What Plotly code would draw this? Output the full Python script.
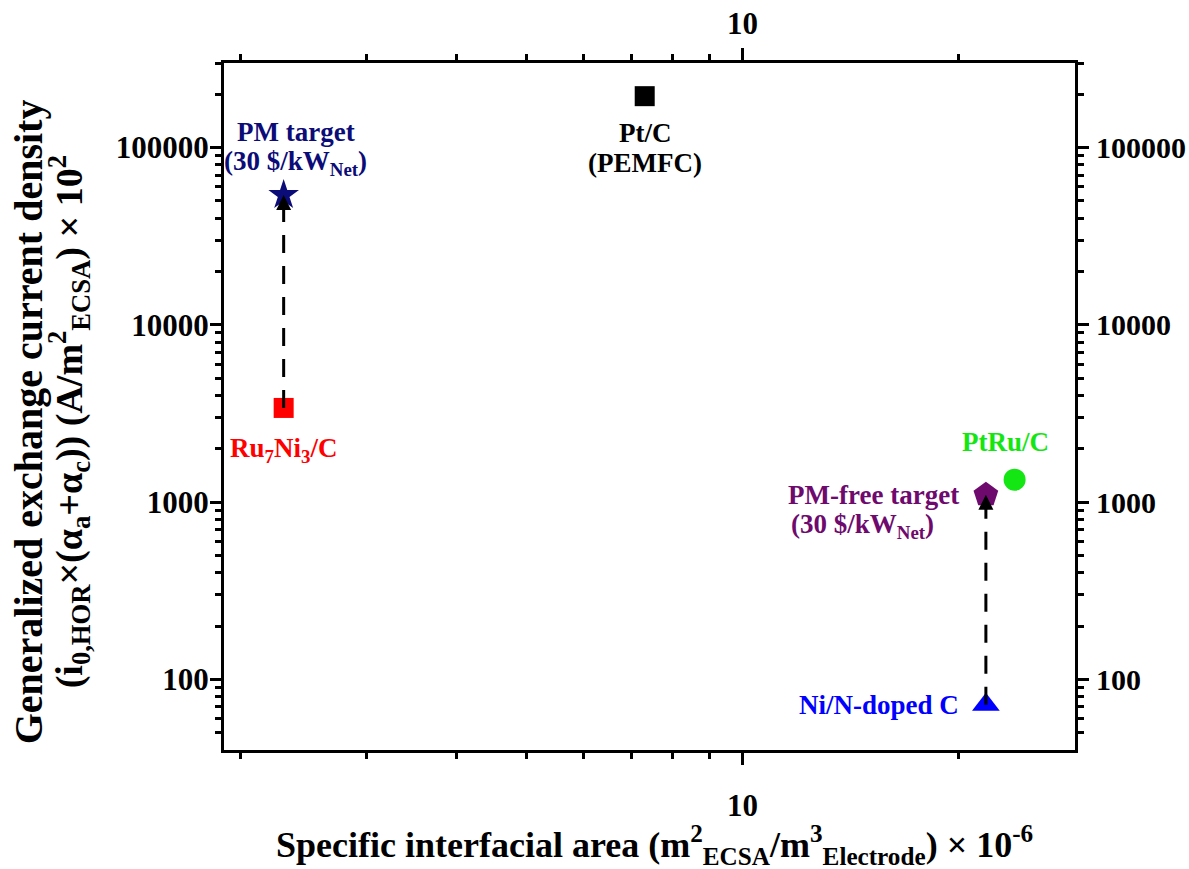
import numpy as np
import plotly.graph_objects as go

# ---- data ----
point_names = ["PM target", "Ru7Ni3/C", "Pt/C", "PtRu/C", "PM-free target", "Ni/N-doped C"]
specific_area = [2.30, 2.30, 7.31, 23.9, 21.8, 21.8]          # m2_ECSA/m3_Electrode x 1e-6
exchange_current = [54000, 3400, 195000, 1340, 1100, 72]      # generalized exchange current density x 1e2
arrow_from = ["Ru7Ni3/C", "Ni/N-doped C"]
arrow_to = ["PM target", "PM-free target"]

x_major = [10]
x_major_text = ["10"]
x_minor = [2, 3, 4, 5, 6, 7, 8, 9, 20]
y_major = [100, 1000, 10000, 100000]
y_major_text = ["100", "1000", "10000", "100000"]
y_minor = [50, 60, 70, 80, 90,
           200, 300, 400, 500, 600, 700, 800, 900,
           2000, 3000, 4000, 5000, 6000, 7000, 8000, 9000,
           20000, 30000, 40000, 50000, 60000, 70000, 80000, 90000,
           200000, 300000]

# ---- styles ----
FONT = "Liberation Serif"
styles = {
    "PM target": dict(symbol="star", color="#0c0c78", size=23,
                      lines=["PM target", "(30 $/kW<sub>Net</sub>)"], xshift=12, yshifts=[63, 32], xanchor="center"),
    "Ru7Ni3/C": dict(symbol="square", color="#ff0000", size=20,
                     lines=["Ru<sub>7</sub>Ni<sub>3</sub>/C"], xshift=0, yshifts=[-42], xanchor="center"),
    "Pt/C": dict(symbol="square", color="#000000", size=20,
                 lines=["Pt/C", "(PEMFC)"], xshift=0, yshifts=[-37, -67], xanchor="center"),
    "PtRu/C": dict(symbol="circle", color="#14e614", size=22,
                   lines=["PtRu/C"], xshift=-9, yshifts=[38], xanchor="center"),
    "PM-free target": dict(symbol="pentagon", color="#6e0a6e", size=26,
                           lines=["PM-free target", "(30 $/kW<sub>Net</sub>)"], xshift=[-112, -123],
                           yshifts=[0, -31], xanchor="center"),
    "Ni/N-doped C": dict(symbol="triangle-up", color="#0000ff", size=24,
                         lines=["Ni/N-doped C"], xshift=-25, yshifts=[0], xanchor="right"),
}

fig = go.Figure()

idx = {n: i for i, n in enumerate(point_names)}

for n in point_names:
    s = styles[n]
    i = idx[n]
    fig.add_trace(go.Scatter(
        x=[specific_area[i]], y=[exchange_current[i]], mode="markers",
        marker=dict(symbol=s["symbol"], color=s["color"], size=s["size"], line=dict(width=0)),
        showlegend=False, hoverinfo="skip"))

# dashed arrows
for a, b in zip(arrow_from, arrow_to):
    ia, ib = idx[a], idx[b]
    fig.add_trace(go.Scatter(
        x=[specific_area[ia], specific_area[ib]],
        y=[exchange_current[ia], exchange_current[ib]],
        mode="lines", line=dict(color="black", width=3, dash="18px,13px"),
        showlegend=False, hoverinfo="skip"))
    fig.add_annotation(x=np.log10(specific_area[ib]), y=np.log10(exchange_current[ib]),
                       xref="x", yref="y", ax=0, ay=16, text="", showarrow=True,
                       arrowhead=2, arrowsize=1.0, arrowwidth=3, arrowcolor="black", standoff=0)

# labels
for n in point_names:
    s = styles[n]
    i = idx[n]
    xs = s["xshift"] if isinstance(s["xshift"], list) else [s["xshift"]] * len(s["lines"])
    for line, ys, xsh in zip(s["lines"], s["yshifts"], xs):
        fig.add_annotation(x=np.log10(specific_area[i]), y=np.log10(exchange_current[i]),
                           xref="x", yref="y", text=line, showarrow=False,
                           xanchor=s["xanchor"], yanchor="middle", align="center",
                           xshift=xsh, yshift=ys,
                           font=dict(family=FONT, size=27, color=s["color"], weight="bold"))

# invisible trace for secondary axes
fig.add_trace(go.Scatter(x=[specific_area[0]], y=[exchange_current[0]], xaxis="x2", yaxis="y2",
                         mode="markers", marker=dict(opacity=0), showlegend=False, hoverinfo="skip"))

tickfont = dict(family=FONT, size=31, color="black", weight="bold")
tickfont_r = dict(family=FONT, size=30, color="black", weight="bold")
xr = [np.log10(1.9), np.log10(29)]
yr = [np.log10(40), np.log10(300000)]

xcommon = dict(type="log", range=xr, showline=True, linecolor="black", linewidth=3,
               ticks="outside", ticklen=12, tickwidth=3, tickcolor="black",
               tickmode="array", tickvals=x_major, ticktext=x_major_text, tickfont=tickfont,
               minor=dict(tickmode="array", tickvals=x_minor, ticks="outside", ticklen=6,
                          tickwidth=3, tickcolor="black", showgrid=False),
               showgrid=False, zeroline=False, mirror=False, automargin=False)
ycommon = dict(type="log", range=yr, showline=True, linecolor="black", linewidth=3,
               ticks="outside", ticklen=11, tickwidth=3, tickcolor="black",
               tickmode="array", tickvals=y_major, ticktext=y_major_text,
               minor=dict(tickmode="array", tickvals=y_minor, ticks="outside", ticklen=6,
                          tickwidth=3, tickcolor="black", showgrid=False),
               showgrid=False, zeroline=False, mirror=False, automargin=False)

fig.update_layout(
    width=1189, height=869,
    margin=dict(l=224, r=114, t=63, b=119, autoexpand=False),
    paper_bgcolor="white", plot_bgcolor="white",
    xaxis=dict(**xcommon, side="bottom", ticklabelstandoff=14),
    yaxis=dict(**ycommon, side="left", ticklabelstandoff=-5, tickfont=tickfont),
    xaxis2=dict(**xcommon, side="top", overlaying="x", anchor="y", ticklabelstandoff=2),
    yaxis2=dict(**ycommon, side="right", overlaying="y", anchor="x", ticklabelstandoff=1,
                tickfont=tickfont_r),
    showlegend=False,
)

# axis titles as annotations
fig.add_annotation(xref="paper", yref="paper", x=0.506, y=0, yshift=-95, showarrow=False,
                   xanchor="center", yanchor="middle",
                   text="Specific interfacial area (m<sup>2</sup><sub>ECSA</sub>/m<sup>3</sup><sub>Electrode</sub>) × 10<sup>-6</sup>",
                   font=dict(family=FONT, size=36, color="black", weight="bold"))
fig.add_annotation(xref="paper", yref="paper", x=0, xshift=-196, y=0.477, showarrow=False,
                   xanchor="center", yanchor="middle", textangle=-90,
                   text="Generalized exchange current density",
                   font=dict(family=FONT, size=40, color="black", weight="bold"))
fig.add_annotation(xref="paper", yref="paper", x=0, xshift=-155, y=0.477, showarrow=False,
                   xanchor="center", yanchor="middle", textangle=-90,
                   text="(i<sub>0,HOR</sub>×(α<sub>a</sub>+α<sub>c</sub>)) (A/m<sup>2</sup><sub>ECSA</sub>) × 10<sup>2</sup>",
                   font=dict(family=FONT, size=38, color="black", weight="bold"))

post = "document.body.style.margin='0';document.body.style.overflow='hidden';"
fig.write_html("out.html", post_script=post, config={"displayModeBar": False})
